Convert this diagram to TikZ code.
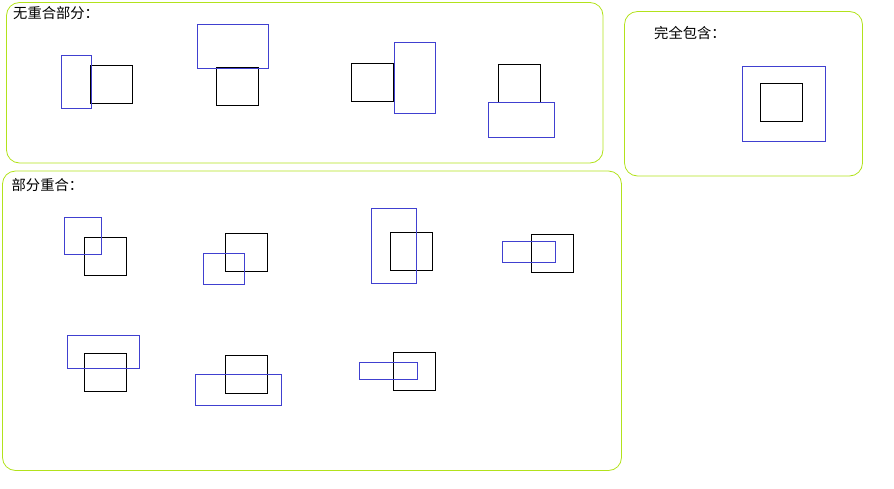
\documentclass[tikz,border=0pt]{standalone}
\usepackage{fontspec}
\newfontfamily\cjkfont{Noto Sans CJK SC}
\definecolor{framegreen}{RGB}{178,226,28}
\definecolor{probeblue}{RGB}{64,64,208}

\begin{document}
\begin{tikzpicture}[
	x=1pt, y=-1pt,
	group/.style={draw=framegreen, line width=0.8pt, rounded corners=13pt},
	title/.style={anchor=west, inner sep=0pt, font=\cjkfont\fontsize{14.3}{16}\selectfont},
	target/.style={draw=black, line width=0.9pt},
	probe/.style={draw=probeblue, line width=0.8pt}
]
	\useasboundingbox (0,0) rectangle (894,488);

	% groups
	\draw[group] (6.5,2.5) rectangle (603,163);
	\draw[group] (624.5,11.5) rectangle (862.5,176);
	\draw[group] (2.5,171) rectangle (621.5,470.5);

	\node[title] (nooverlap) at (13,13.5) {无重合部分：};
	\node[title] (contain) at (654,32.5) {完全包含：};
	\node[title] (partial) at (11.5,185) {部分重合：};

	% black = target, blue = probe
	\foreach \tx/\ty/\px/\py/\qx/\qy in {
		90.5/65.5/61.5/55.5/91.5/108.5,
		216.5/67.5/197.5/24.5/268.5/68.5,
		351.5/63.5/394.5/42.5/435.5/113.5,
		498.5/64.5/488.5/102.5/554.5/137.5,
		760.5/83.5/742.5/66.5/825.5/141.5,
		84.5/237.5/64.5/217.5/101.5/254.5,
		225.5/233.5/203.5/253.5/244.5/284.5,
		390.5/232.5/371.5/208.5/416.5/283.5,
		531.5/234.5/502.5/241.5/555.5/262.5,
		84.5/353.5/67.5/335.5/139.5/368.5,
		225.5/355.5/195.5/374.5/281.5/405.5,
		393.5/352.5/359.5/362.5/417.5/379.5}
	{
		\draw[target] (\tx,\ty) rectangle ++(42,38);
		\draw[probe] (\px,\py) rectangle (\qx,\qy);
	}
\end{tikzpicture}
\end{document}
